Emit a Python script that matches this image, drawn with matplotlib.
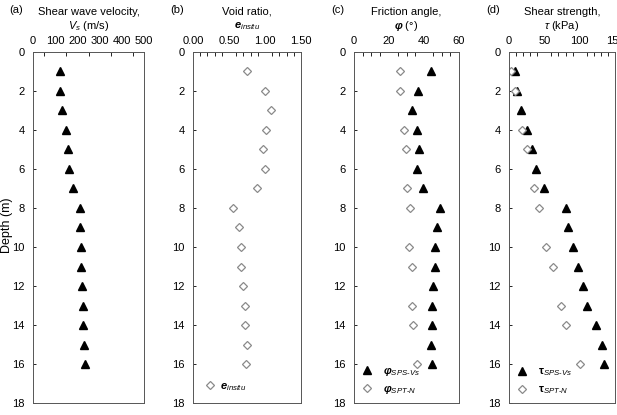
import matplotlib
matplotlib.use("Agg")
import matplotlib.pyplot as plt
from matplotlib.ticker import MultipleLocator

plt.rcParams['font.family'] = ['Liberation Sans', 'DejaVu Sans']
plt.rcParams['font.size'] = 8
plt.rcParams['mathtext.fontset'] = 'custom'
plt.rcParams['mathtext.rm'] = 'Liberation Sans'
plt.rcParams['mathtext.it'] = 'Liberation Sans:italic'
plt.rcParams['mathtext.bf'] = 'Liberation Sans:bold'
plt.rcParams['mathtext.bfit'] = 'Liberation Sans:italic:bold'

# Data
depth = [1, 2, 3, 4, 5, 6, 7, 8, 9, 10, 11, 12, 13, 14, 15, 16]
vs = [120, 123, 130, 148, 158, 163, 179, 211, 211, 214, 218, 221, 223, 227, 229, 235]
e_insitu = [0.75, 1.00, 1.09, 1.01, 0.97, 1.00, 0.89, 0.56, 0.64, 0.66, 0.67, 0.70,
            0.72, 0.72, 0.75, 0.73]
phi_sps = [43.8, 36.4, 33.3, 36.0, 37.0, 36.0, 39.4, 49.3, 47.2, 46.5, 46.1, 45.3,
           44.6, 44.6, 43.8, 44.6]
depth_spt = [1, 2, 4, 5, 7, 8, 10, 11, 13, 14, 16]
phi_spt = [26.3, 26.1, 28.4, 29.7, 30.3, 32.0, 31.6, 33.0, 33.3, 33.9, 35.8]
tau_sps = [8, 12, 17, 25, 33, 38, 50, 80, 83, 90, 98, 105, 110, 123, 131, 135]
tau_spt = [3, 8, 18, 25, 35, 43, 53, 62, 74, 81, 100]

W, H = 617, 415
fig = plt.figure(figsize=(W / 100, H / 100), dpi=100)

# axes boxes in pixels: left, right
boxes = [(33, 144), (193, 301), (354, 459), (509, 615)]
top, bottom = 52, 403


def make_ax(i, xmax, major, minor, fmt):
    l, r = boxes[i]
    ax = fig.add_axes([l / W, (H - bottom) / H, (r - l) / W, (bottom - top) / H])
    ax.set_ylim(18, 0)
    ax.set_xlim(0, xmax)
    ax.xaxis.tick_top()
    ax.xaxis.set_major_locator(MultipleLocator(major))
    ax.xaxis.set_minor_locator(MultipleLocator(minor))
    ax.xaxis.set_major_formatter(fmt)
    ax.yaxis.set_major_locator(MultipleLocator(2))
    ax.tick_params(axis='x', which='both', direction='in', length=3, width=0.6, pad=4)
    ax.tick_params(axis='x', which='major', length=0)
    ax.tick_params(axis='y', direction='in', length=2, width=0.6, pad=6)
    for s in ax.spines.values():
        s.set_linewidth(0.7)
        s.set_color('#555555')
    return ax


def titles(ax, letter, line1, line2):
    ax.text(-0.15, 1.12, letter, transform=ax.transAxes, ha='center', va='center')
    ax.text(0.5, 1.115, line1, transform=ax.transAxes, ha='center', va='center')
    ax.text(0.5, 1.075, line2, transform=ax.transAxes, ha='center', va='center')


tri = dict(marker='^', color='black', markersize=5.2, linestyle='none')
dia = dict(marker='D', markerfacecolor='white', markeredgecolor='#8a8a8a',
           markersize=3.8, markeredgewidth=0.9, linestyle='none')

# (a)
ax = make_ax(0, 500, 100, 50, '{x:.0f}')
ax.plot(vs, depth, **tri)
titles(ax, '(a)', 'Shear wave velocity,', r'$V_s$ (m/s)')
fig.text(7 / W, 1 - 225 / H, 'Depth (m)', rotation=90, ha='center', va='center',
         fontsize=9)

# (b)
ax = make_ax(1, 1.5, 0.5, 0.1, '{x:.2f}')
ax.plot(e_insitu, depth, label=r'$\mathbfit{e}_{insitu}$', **dia)
titles(ax, '(b)', 'Void ratio,', r'$\mathbfit{e}_{insitu}$')
ax.legend(loc='lower left', frameon=False, handletextpad=0.3, borderaxespad=0.5,
          fontsize=8, handlelength=1.2)

# (c)
ax = make_ax(2, 60, 20, 5, '{x:.0f}')
ax.plot(phi_sps, depth, label=r'$\mathbfit{\varphi}_{SPS\text{-}Vs}$', **tri)
ax.plot(phi_spt, depth_spt, label=r'$\mathbfit{\varphi}_{SPT\text{-}N}$', **dia)
titles(ax, '(c)', 'Friction angle,', r'$\mathbfit{\varphi}$ ($\degree$)')
ax.legend(loc='lower left', frameon=False, handletextpad=0.8, borderaxespad=0.2,
          fontsize=8, handlelength=1.2, labelspacing=0.55)

# (d)
ax = make_ax(3, 150, 50, 10, '{x:.0f}')
ax.plot(tau_sps, depth, label=r'$\mathbf{\tau}_{SPS\text{-}Vs}$', **tri)
ax.plot(tau_spt, depth_spt, label=r'$\mathbf{\tau}_{SPT\text{-}N}$', **dia)
titles(ax, '(d)', 'Shear strength,', r'$\tau$ (kPa)')
ax.legend(loc='lower left', frameon=False, handletextpad=0.8, borderaxespad=0.2,
          fontsize=8, handlelength=1.2, labelspacing=0.55)

fig.savefig('out.png', dpi=100)
